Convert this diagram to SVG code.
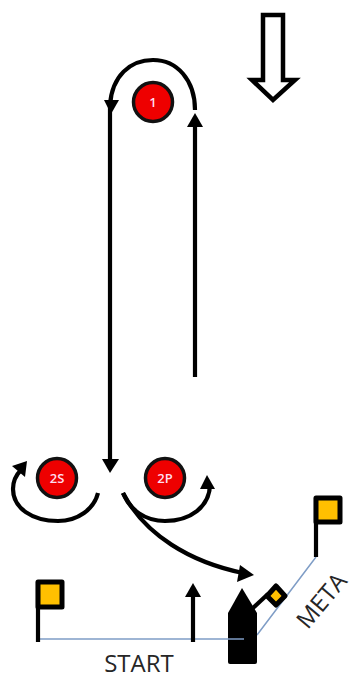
<svg xmlns="http://www.w3.org/2000/svg" width="351" height="677" viewBox="0 0 351 677">
<style>
.c{fill:none;stroke:#000;stroke-width:4.200}
.h{fill:#000;stroke:none}
.b{fill:#ee0000;stroke:#111;stroke-width:3.500}
.n{font-family:"Open Sans","Liberation Sans",sans-serif;font-size:13px;font-weight:600;fill:#fde;text-anchor:middle}
.f{fill:#ffc000;stroke:#000;stroke-width:5;stroke-linejoin:round}
.p{stroke:#000;stroke-width:4.200;fill:none}
.l{stroke:#7f9dc6;stroke-width:1.500;fill:none}
.t{font-family:"Open Sans","Liberation Sans",sans-serif;font-size:24px;fill:#262626}
</style>
<rect width="351" height="677" fill="#fff"/>
<g id="wind"><path d="M263 15H283V80H295L273 100L252 80H263Z" fill="#fff" stroke="#000" stroke-width="4.500"/></g>
<g id="connectors">
<path class="l" d="M40 639H244M257 635L316 557"/>
<path class="c" d="M110 105C112 76 130 60 153 60C177 60 195 80 195 110"/>
<path class="h" d="M104 100H119L111 114Z"/>
<path class="c" d="M195 377V122"/>
<path class="h" d="M195 113L203 127H187Z"/>
<path class="c" d="M110 105V462"/>
<path class="h" d="M102 459H119L110 473Z"/>
<path class="c" d="M98 493C94 509 78 521 58 521C32 521 13 508 13 489C13 480 17 474 21 470"/>
<path class="h" d="M27 461L25 477L12 466Z"/>
<path class="c" d="M123 493C130 510 145 521 165 521C190 521 210 507 210 484"/>
<path class="h" d="M207 475L215 489H200Z"/>
<path class="c" d="M123 493C145 535 190 562 243 573"/>
<path class="h" d="M254 575L237 582L240 565Z"/>
<path class="c" d="M193 642V593"/>
<path class="h" d="M193 583L201 597H185Z"/>
</g>
<g id="mark-1"><circle class="b" cx="153" cy="102" r="19.500"/><text class="n" x="153" y="106.500">1</text></g>
<g id="mark-2s"><circle class="b" cx="57" cy="478" r="19.500"/><text class="n" x="57" y="482.500">2S</text></g>
<g id="mark-2p"><circle class="b" cx="165" cy="478" r="19.500"/><text class="n" x="165" y="482.500">2P</text></g>
<g id="flag-start"><path class="p" d="M38 582V642"/><rect class="f" x="38" y="582" width="24" height="25"/></g>
<g id="flag-meta"><path class="p" d="M316 498V557"/><rect class="f" x="316" y="498" width="24" height="24"/></g>
<g id="boat"><path d="M242 588L257 613V662Q257 664 255 664H230Q228 664 228 662V613Z" fill="#000"/><path class="l" d="M228 639H244"/></g>
<g id="boat-flag"><path class="p" d="M253 608L268 594"/><path class="f" d="M276 586L285 596L276 605L267 596Z"/></g>
<g id="label-start"><text class="t" x="139" y="672" text-anchor="middle">START</text></g>
<g id="label-meta"><text class="t" x="0" y="0" text-anchor="middle" transform="translate(328 606) rotate(-50)">META</text></g>
</svg>
